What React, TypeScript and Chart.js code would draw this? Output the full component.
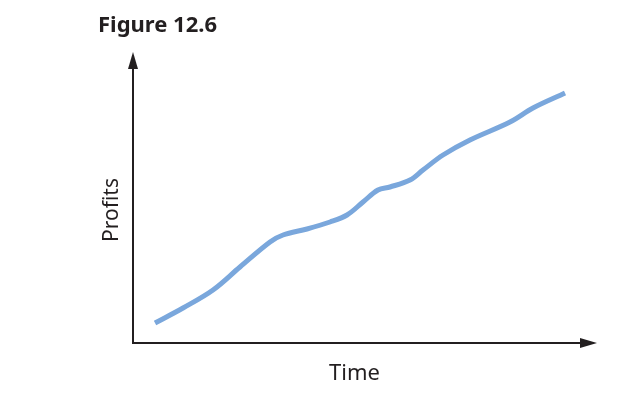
import React, { useEffect, useRef } from "react";
import { Chart, registerables } from "chart.js";

Chart.register(...registerables);

const timeValues = [4.97, 11.29, 18.06, 24.15, 30.93, 33.86, 39.28, 44.47, 48.31, 51.92, 55.3, 58.01, 62.53, 65.46, 69.98, 76.07, 85.1, 90.29, 97.52];
const profitValues = [7.52, 13.16, 19.92, 28.57, 37.97, 40.6, 42.86, 45.49, 48.12, 53.01, 57.52, 58.65, 61.28, 65.04, 70.68, 76.32, 83.08, 88.35, 93.98];
const figureTitle = "Figure 12.6";
const xAxisTitle = "Time";
const yAxisTitle = "Profits";

const INK = "#231f20";
const LINE_COLOR = "#7aa7dc";
const FONT = "'Noto Sans', 'Open Sans', sans-serif";

const axisArrows = {
  id: "axisArrows",
  afterDraw(chart: any) {
    const { ctx, chartArea } = chart;
    const { left, right, top, bottom } = chartArea;
    const extX = 21;
    const extY = 25;
    const headLen = 17;
    const headHalf = 5;
    ctx.save();
    ctx.strokeStyle = INK;
    ctx.fillStyle = INK;
    ctx.lineWidth = 2;
    // y axis
    ctx.beginPath();
    ctx.moveTo(left, bottom + 1);
    ctx.lineTo(left, top - extY + headLen - 1);
    ctx.stroke();
    // x axis
    ctx.beginPath();
    ctx.moveTo(left - 1, bottom);
    ctx.lineTo(right + extX - headLen + 1, bottom);
    ctx.stroke();
    // y arrowhead
    ctx.beginPath();
    ctx.moveTo(left, top - extY);
    ctx.lineTo(left - headHalf, top - extY + headLen);
    ctx.lineTo(left + headHalf, top - extY + headLen);
    ctx.closePath();
    ctx.fill();
    // x arrowhead
    ctx.beginPath();
    ctx.moveTo(right + extX, bottom);
    ctx.lineTo(right + extX - headLen, bottom - headHalf);
    ctx.lineTo(right + extX - headLen, bottom + headHalf);
    ctx.closePath();
    ctx.fill();
    ctx.restore();
  },
};

export default function App() {
  const canvasRef = useRef<HTMLCanvasElement | null>(null);

  useEffect(() => {
    document.body.style.margin = "0";
    const canvas = canvasRef.current;
    if (!canvas) return;
    const points = timeValues.map((t, i) => ({ x: t, y: profitValues[i] }));
    const chart = new Chart(canvas, {
      type: "line",
      data: {
        datasets: [
          {
            data: points,
            borderColor: LINE_COLOR,
            borderWidth: 5,
            borderCapStyle: "butt",
            pointRadius: 0,
            tension: 0.35,
            fill: false,
          },
        ],
      },
      options: {
        animation: false,
        responsive: false,
        events: [],
        layout: { padding: { left: 98, right: 44, top: 0, bottom: 0 } },
        plugins: {
          legend: { display: false },
          tooltip: { enabled: false },
          title: {
            display: true,
            text: figureTitle,
            align: "start",
            color: INK,
            font: { family: FONT, size: 22, weight: "bold", lineHeight: 1.2 },
            padding: { top: 12.8, bottom: 37.8 },
          },
        },
        scales: {
          x: {
            type: "linear",
            min: 0,
            max: 100,
            ticks: { display: false },
            grid: { display: false, drawTicks: false },
            border: { display: false },
            title: {
              display: true,
              text: xAxisTitle,
              color: INK,
              font: { family: FONT, size: 22, lineHeight: 1.2 },
              padding: { top: 17.8, bottom: 6.8 },
            },
          },
          y: {
            type: "linear",
            min: 0,
            max: 100,
            ticks: { display: false },
            grid: { display: false, drawTicks: false },
            border: { display: false },
            title: {
              display: true,
              text: yAxisTitle,
              color: INK,
              font: { family: FONT, size: 21, lineHeight: 1.2 },
              padding: { top: 1.4, bottom: 8.4 },
            },
          },
        },
      },
      plugins: [axisArrows],
    });
    return () => chart.destroy();
  }, []);

  return (
    <div style={{ width: 620, height: 394, background: "#ffffff" }}>
      <canvas ref={canvasRef} width={620} height={394} style={{ display: "block" }} />
    </div>
  );
}
